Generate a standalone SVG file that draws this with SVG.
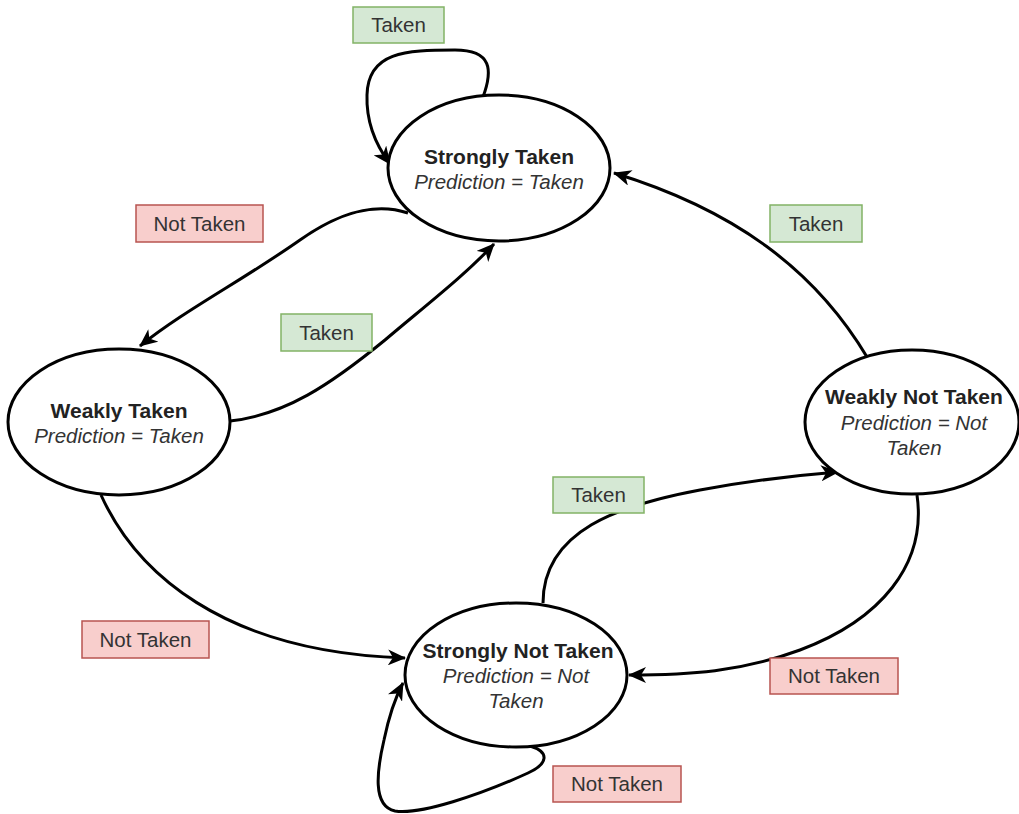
<svg xmlns="http://www.w3.org/2000/svg" width="1019" height="814" viewBox="0 0 1019 814">
<style>
.state{fill:#ffffff;stroke:#000000;stroke-width:3}
.t1{font-family:"Liberation Sans",Arial,sans-serif;font-size:21px;font-weight:bold;fill:#222222;text-anchor:middle}
.t2{font-family:"Liberation Sans",Arial,sans-serif;font-size:20.5px;font-style:italic;fill:#333333;text-anchor:middle}
.edge{fill:none;stroke:#000000;stroke-width:3;marker-end:url(#arr)}
.lg{fill:#d5e8d4;stroke:#82b366;stroke-width:1.5}
.lr{fill:#f8cecc;stroke:#b85450;stroke-width:1.5}
.lt{font-family:"Liberation Sans",Arial,sans-serif;font-size:20.5px;fill:#333333;text-anchor:middle}
</style>
<defs>
<marker id="arr" viewBox="0 0 18 16" refX="17" refY="8" markerWidth="18" markerHeight="16" markerUnits="userSpaceOnUse" orient="auto">
<path d="M0,0 L18,8 L0,16 L5,8 z" fill="#000000"/>
</marker>
</defs>
<rect width="1019" height="814" fill="#ffffff"/>
<g id="connectors">
<path class="edge" d="M483,97 C493,70 492,50 455,50 C405,50 368,52 367,95 C366,125 378,148 390,164"/>
<path class="edge" d="M408,213 C375,202 340,212 300,240 C240,282 185,310 140,346"/>
<path class="edge" d="M230,421 C285,415 330,385 385,340 C430,302 465,275 494,244"/>
<path class="edge" d="M867,357 C815,270 735,210 614,173"/>
<path class="edge" d="M543,603 C543,530 620,505 700,490 C760,479 800,475 838,472"/>
<path class="edge" d="M917,495 C927,565 880,620 800,650 C740,672 690,675 629,675"/>
<path class="edge" d="M101,495 C135,570 220,652 405,658"/>
<path class="edge" d="M530,746 C550,752 548,764 528,773 C480,795 420,815 395,811 C372,806 377,770 384,740 C389,716 395,698 403,683"/>
</g>
<g id="node-strongly-taken">
<ellipse class="state" cx="499" cy="168" rx="111" ry="73"/>
<text class="t1" x="499" y="164">Strongly Taken</text>
<text class="t2" x="499" y="189">Prediction = Taken</text>
</g>
<g id="node-weakly-taken">
<ellipse class="state" cx="119" cy="422" rx="111" ry="73"/>
<text class="t1" x="119" y="418">Weakly Taken</text>
<text class="t2" x="119" y="443">Prediction = Taken</text>
</g>
<g id="node-weakly-not-taken">
<ellipse class="state" cx="912" cy="422" rx="107" ry="72"/>
<text class="t1" x="914" y="404">Weakly Not Taken</text>
<text class="t2" x="914" y="430">Prediction = Not</text>
<text class="t2" x="914" y="455">Taken</text>
</g>
<g id="node-strongly-not-taken">
<ellipse class="state" cx="516" cy="675" rx="111" ry="72"/>
<text class="t1" x="518" y="658">Strongly Not Taken</text>
<text class="t2" x="516" y="683">Prediction = Not</text>
<text class="t2" x="516" y="708">Taken</text>
</g>
<g id="label-taken-top">
<rect class="lg" x="353" y="7" width="91" height="36"/>
<text class="lt" x="398.5" y="32">Taken</text>
</g>
<g id="label-not-taken-1">
<rect class="lr" x="136" y="205" width="127" height="37"/>
<text class="lt" x="199.5" y="231">Not Taken</text>
</g>
<g id="label-taken-2">
<rect class="lg" x="281" y="314" width="91" height="37"/>
<text class="lt" x="326.5" y="340">Taken</text>
</g>
<g id="label-taken-3">
<rect class="lg" x="770" y="205" width="92" height="37"/>
<text class="lt" x="816" y="231">Taken</text>
</g>
<g id="label-taken-4">
<rect class="lg" x="553" y="477" width="91" height="36"/>
<text class="lt" x="598.5" y="502">Taken</text>
</g>
<g id="label-not-taken-2">
<rect class="lr" x="82" y="621" width="127" height="37"/>
<text class="lt" x="145.5" y="647">Not Taken</text>
</g>
<g id="label-not-taken-3">
<rect class="lr" x="770" y="658" width="128" height="36"/>
<text class="lt" x="834" y="683">Not Taken</text>
</g>
<g id="label-not-taken-4">
<rect class="lr" x="553" y="766" width="128" height="36"/>
<text class="lt" x="617" y="791">Not Taken</text>
</g>
</svg>
